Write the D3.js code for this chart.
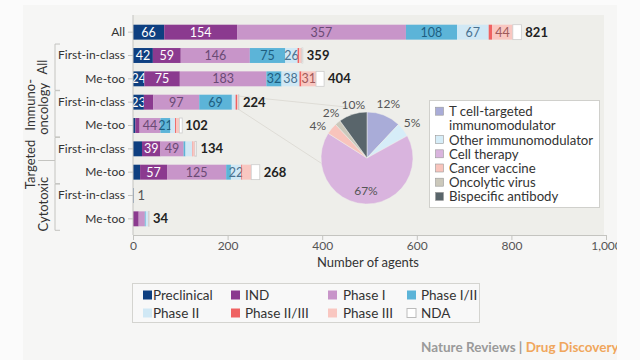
<!DOCTYPE html>
<html><head><meta charset="utf-8">
<script src="https://cdn.jsdelivr.net/npm/d3@7"></script>
<style>body{margin:0;background:#fbfbfb;}svg{display:block;font-family:Lato,"Open Sans",sans-serif;}</style>
</head><body><svg id="c" width="640" height="360"></svg>
<script>
// ---- data ----
const rowLabels = ["All","First-in-class","Me-too","First-in-class","Me-too","First-in-class","Me-too","First-in-class","Me-too"];
const phases = ["Preclinical","IND","Phase I","Phase I/II","Phase II","Phase II/III","Phase III","NDA"];
const preclinical = [66,42,24,23,5,19,15,1,0];
const ind        = [154,59,75,20,9,39,57,0,12];
const phaseI     = [357,146,183,97,44,49,125,0,13];
const phaseI_II  = [108,75,32,69,21,4,10,0,2];
const phaseII    = [67,26,38,8,10,14,22,0,5];
const phaseII_III= [7,3,4,3,2,1,2,0,0];
const phaseIII   = [44,6,31,3,7,5,19,0,1];
const nda        = [18,2,17,1,6,3,18,0,1];
const totals     = [821,359,404,224,102,134,268,1,34];
const xTicks = [0,200,400,600,800,1000];
const groups = [{name:["All"],from:1,to:2},{name:["Immuno-","oncology"],from:3,to:4},{name:["Targeted"],from:5,to:6},{name:["Cytotoxic"],from:7,to:8}];
const pieCats = ["T cell-targeted immunomodulator","Other immunomodulator","Cell therapy","Cancer vaccine","Oncolytic virus","Bispecific antibody"];
const pieVals = [12,5,67,4,2,10];

const phaseColors = ["#0e3f80","#8b3a8f","#c895c9","#5cb4d8","#d0e8f5","#ef6262","#f9c7c1","#ffffff"];
const phaseText = ["#ffffff","#ffffff","#6a4a74","#1e5e80","#4a7290","#ffffff","#a05a5a","#666"];
const pieColors = ["#a9acd8","#d6edf8","#d9b4de","#f8c4bc","#cbc8bb","#59656b"];

const svg = d3.select("#c");
// backgrounds
svg.append("rect").attr("x",23).attr("y",5).attr("width",594).attr("height",355).attr("fill","#f6f6f5");
svg.append("rect").attr("x",133).attr("y",15).attr("width",471).attr("height",220).attr("fill","#eeeeea");

const x = d3.scaleLinear().domain([0,1000]).range([133,606]);
const y = d3.scaleBand().domain(d3.range(rowLabels.length)).range([20.5,230.5]).paddingInner(0.36).paddingOuter(0.18);

const series = [preclinical,ind,phaseI,phaseI_II,phaseII,phaseII_III,phaseIII,nda];
const rows = rowLabels.map((l,i)=>{const o={i}; phases.forEach((p,k)=>o[p]=series[k][i]); return o;});
const stack = d3.stack().keys(phases)(rows);

// connector lines
svg.append("line").attr("x1",238).attr("y1",96).attr("x2",366).attr("y2",109).attr("stroke","#dedcd6").attr("stroke-width",1);
svg.append("line").attr("x1",238).attr("y1",109).attr("x2",324).attr("y2",165).attr("stroke","#dedcd6").attr("stroke-width",1);

stack.forEach((layer,k)=>{
  const g = svg.append("g");
  g.selectAll("rect").data(layer).join("rect")
    .attr("x",d=>x(d[0])).attr("y",(d,i)=>y(i))
    .attr("width",d=>Math.max(0,x(d[1])-x(d[0]))).attr("height",y.bandwidth())
    .attr("fill",phaseColors[k])
    .attr("stroke",k===7?"#cccccc":"none").attr("stroke-width",0.8);
  g.selectAll("text").data(layer.filter((d,i)=>(d[1]-d[0])>=21 && k!==7 && k!==5)).join("text")
    .attr("x",d=>(x(d[0])+x(d[1]))/2).attr("y",d=>y(d.data.i)+y.bandwidth()/2+4.5)
    .attr("text-anchor","middle").attr("font-size",12.5).attr("fill",phaseText[k])
    .text(d=>d[1]-d[0]);
});
// totals
svg.append("g").selectAll("text").data(totals).join("text")
  .attr("x",d=>x(d)+4).attr("y",(d,i)=>y(i)+y.bandwidth()/2+4.5)
  .attr("font-size",13).attr("font-weight",(d,i)=>i===7?"normal":"bold").attr("fill",(d,i)=>i===7?"#555":"#222")
  .text(d=>d3.format(",")(d));

// axes
const xAxis = svg.append("g").attr("transform","translate(0,235)")
  .call(d3.axisBottom(x).tickValues(xTicks).tickSize(5).tickFormat(d3.format(",")));
xAxis.select(".domain").attr("stroke","#c4c4c0");
xAxis.selectAll(".tick line").attr("stroke","#c4c4c0");
xAxis.selectAll("text").attr("font-size",12).attr("fill","#555").attr("font-family","Lato,sans-serif").attr("dy","0.6em");
const yAxis = svg.append("g").attr("transform","translate(133,0)")
  .call(d3.axisLeft(y).tickSize(5).tickFormat(i=>rowLabels[i]));
yAxis.select(".domain").attr("stroke","#c4c4c0").attr("d","M0,15V235");
yAxis.selectAll(".tick line").attr("stroke","#c4c4c0");
yAxis.selectAll("text").attr("font-size",12).attr("fill","#333").attr("font-family","Lato,sans-serif");

svg.append("text").attr("x",368).attr("y",267).attr("text-anchor","middle").attr("font-size",13).attr("fill","#333").text("Number of agents");

// group brackets
const bx = 55;
groups.forEach((g,gi)=>{
  const y0 = y(g.from)-4, y1 = y(g.to)+y.bandwidth()+4;
  svg.append("path").attr("d",`M${bx+5},${y0}H${bx}V${y1}H${bx+5}`).attr("fill","none").attr("stroke","#c4c4c0");
  const cy = (y0+y1)/2;
  let cols = gi===0?[42]: gi===1?[30,43]: gi===2?[30]:[43];
  let cys = gi===0?[cy]: gi===1?[cy-9,cy-5]: gi===2?[cy+4]:[cy-3];
  if(gi===2) svg.append("line").attr("x1",38).attr("x2",bx).attr("y1",cy).attr("y2",cy).attr("stroke","#c4c4c0");
  g.name.forEach((n,j)=>{
    svg.append("text").attr("transform",`translate(${cols[j]+4.5},${cys[j]}) rotate(-90)`)
      .attr("text-anchor","middle").attr("font-size",13).attr("fill","#333").text(n);
  });
});

// pie
const cx=367, cyP=158, r=46;
const pie = d3.pie().sort(null).value(d=>d)(pieVals);
const arc = d3.arc().innerRadius(0).outerRadius(r);
const pg = svg.append("g").attr("transform",`translate(${cx},${cyP})`);
pg.selectAll("path").data(pie).join("path").attr("d",arc).attr("fill",(d,i)=>pieColors[i]).attr("stroke","#eeeeea").attr("stroke-width",0.5);
const labR = [58,57,33,60,58,57];
const labOff = [[0,0],[0,0],[0,0],[-3,6],[1,0],[4,1]];
pg.selectAll("text").data(pie).join("text")
  .attr("transform",(d,i)=>{const c=d3.arc().innerRadius(labR[i]).outerRadius(labR[i]).centroid(d); return `translate(${c[0]+labOff[i][0]},${c[1]+4+labOff[i][1]})`;})
  .attr("text-anchor","middle").attr("font-size",12).attr("fill","#555").text(d=>d.data+"%");

// pie legend
svg.append("rect").attr("x",429.5).attr("y",100.5).attr("width",170).attr("height",107).attr("fill","#fff").attr("stroke","#d0d0cc");
const legLines = [["T cell-targeted","immunomodulator"],["Other immunomodulator"],["Cell therapy"],["Cancer vaccine"],["Oncolytic virus"],["Bispecific antibody"]];
let ly = 111.7;
legLines.forEach((ls,i)=>{
  svg.append("rect").attr("x",435.5).attr("y",ly-4.5).attr("width",8).attr("height",8).attr("fill",pieColors[i]).attr("stroke","#999").attr("stroke-width",0.6);
  ls.forEach((t,j)=>{
    svg.append("text").attr("x",449).attr("y",ly+4.5).attr("font-size",13.2).attr("fill","#333").text(t);
    ly += 14.2;
  });
});

// bottom legend
svg.append("rect").attr("x",132.5).attr("y",283.5).attr("width",347).attr("height",39).attr("fill","#f8f8f8").attr("stroke","#d4d4d0");
const colX = [[143,153],[231,245],[328,343],[407,421]];
phases.forEach((p,k)=>{
  const c = colX[k%4], yy = k<4?295:313;
  svg.append("rect").attr("x",c[0]).attr("y",yy-4.5).attr("width",9).attr("height",9).attr("fill",phaseColors[k]).attr("stroke",k===7?"#bbb":"none");
  svg.append("text").attr("x",c[1]).attr("y",yy+4.5).attr("font-size",13.5).attr("fill","#333").text(p);
});

// footer
const f = svg.append("text").attr("x",421).attr("y",352).attr("font-size",13.5).attr("font-weight","bold");
f.append("tspan").attr("fill","#9a9a9a").text("Nature Reviews | ");
f.append("tspan").attr("fill","#f0a65c").text("Drug Discovery");
// page edge clip
svg.append("rect").attr("x",617).attr("y",0).attr("width",23).attr("height",360).attr("fill","#fbfbfb");
</script></body></html>
